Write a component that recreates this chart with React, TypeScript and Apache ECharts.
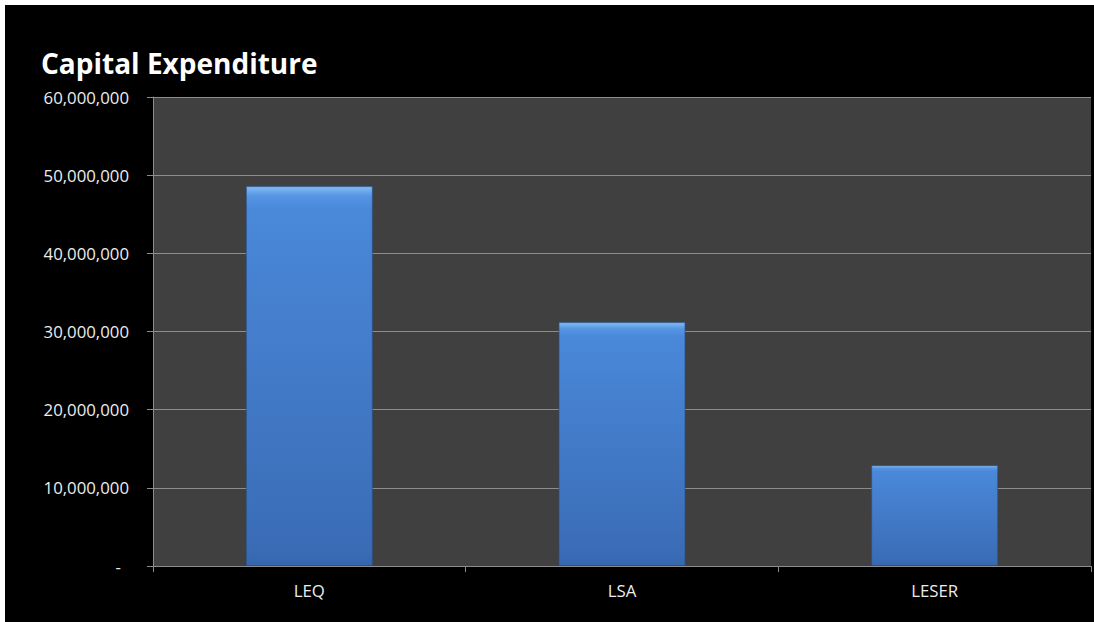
import React, { useEffect, useRef } from "react";
import * as echarts from "echarts";

const titleText = "Capital Expenditure";
const categories = ["LEQ", "LSA", "LESER"];
const capexValues = [48600000, 31200000, 12900000];
const yMin = 0;
const yMax = 60000000;
const yInterval = 10000000;

export default function App() {
  const ref = useRef<HTMLDivElement>(null);

  useEffect(() => {
    if (!ref.current) return;
    const chart = echarts.init(ref.current, null, { renderer: "svg" });
    const font = "'Open Sans', 'Liberation Sans', sans-serif";
    const labelSize = 16.8;
    chart.setOption({
      animation: false,
      backgroundColor: "#000000",
      textStyle: { fontFamily: font },
      graphic: [
        {
          type: "text",
          left: 36,
          top: 44,
          style: {
            text: titleText,
            fill: "#ffffff",
            font: `bold 28px ${font}`,
            verticalAlign: "middle",
          },
        },
      ],
      grid: {
        left: 148,
        top: 92,
        right: 3,
        bottom: 56,
        show: true,
        backgroundColor: "#404040",
        borderWidth: 0,
      },
      xAxis: {
        type: "category",
        data: categories,
        axisLine: { show: true, lineStyle: { color: "#8c8c8c", width: 1 } },
        axisTick: { show: true, length: 6, lineStyle: { color: "#8c8c8c" } },
        axisLabel: {
          color: "#ececec",
          fontSize: labelSize,
          fontFamily: font,
          margin: 16,
        },
        splitLine: { show: false },
      },
      yAxis: {
        type: "value",
        min: yMin,
        max: yMax,
        interval: yInterval,
        axisLine: { show: true, lineStyle: { color: "#8c8c8c", width: 1 } },
        axisTick: { show: true, length: 6, lineStyle: { color: "#8c8c8c" } },
        splitLine: { show: true, lineStyle: { color: "#8c8c8c", width: 1 } },
        axisLabel: {
          color: "#ececec",
          fontSize: labelSize,
          fontFamily: font,
          margin: 24,
          formatter: (v: number) =>
            v === 0 ? "{z|-}" : v.toLocaleString("en-US"),
          rich: {
            z: {
              color: "#ececec",
              fontSize: labelSize,
              fontFamily: font,
              padding: [0, 8, 0, 0],
            },
          },
        },
      },
      series: [
        {
          type: "bar",
          data: capexValues,
          barCategoryGap: "59.4%",
          itemStyle: {
            color: new echarts.graphic.LinearGradient(0, 0, 0, 1, [
              { offset: 0, color: "#86bcf4" },
              { offset: 0.025, color: "#5595e4" },
              { offset: 0.06, color: "#4a88d9" },
              { offset: 0.96, color: "#3a6cb6" },
              { offset: 1, color: "#3566ad" },
            ]),
            borderColor: "rgba(40,80,140,0.6)",
            borderWidth: 1,
          },
        },
      ],
    });
    return () => chart.dispose();
  }, []);

  return (
    <div
      style={{
        position: "fixed",
        left: 0,
        top: 0,
        width: 1094,
        height: 622,
        background: "#ffffff",
      }}
    >
      <div
        ref={ref}
        style={{
          position: "absolute",
          left: 5,
          top: 5,
          width: 1089,
          height: 617,
        }}
      />
    </div>
  );
}
